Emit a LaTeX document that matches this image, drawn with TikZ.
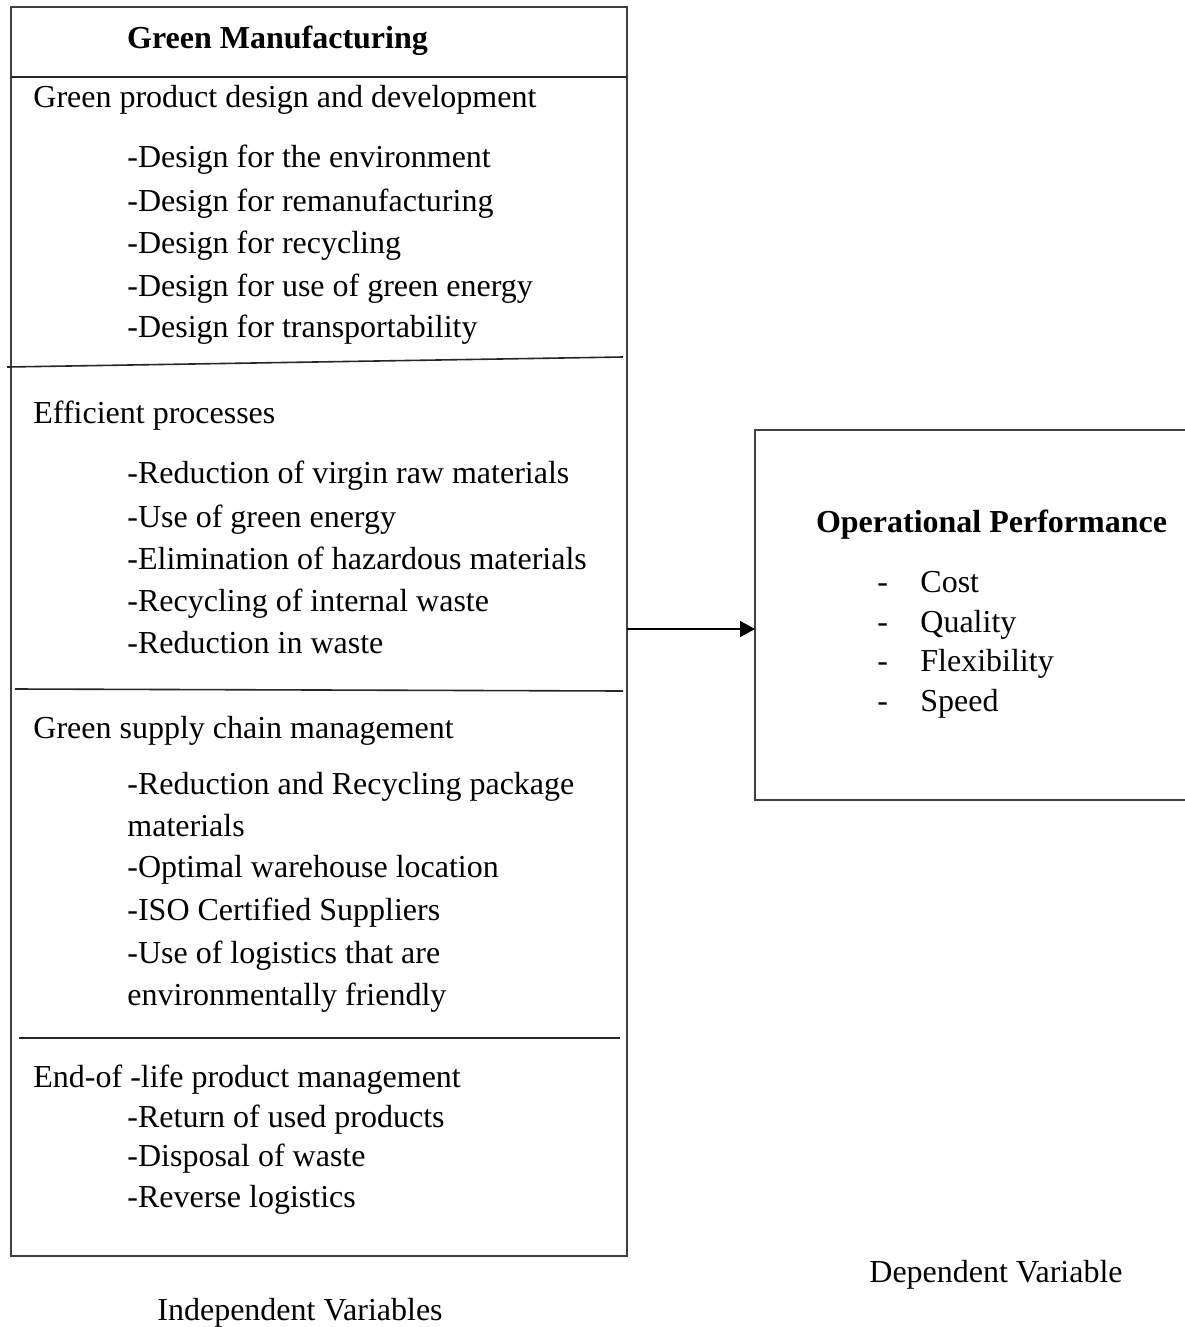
\documentclass[tikz,border=0pt]{standalone}
\usepackage{fontspec}
\setmainfont{Liberation Serif}
\usetikzlibrary{arrows.meta}
\begin{document}
\begin{tikzpicture}[x=0.5pt,y=-0.5pt,
  frame/.style={draw=black!75, line width=0.8pt, inner sep=0, outer sep=0},
  divider/.style={draw=black!85, line width=0.8pt},
  txt/.style={inner sep=0, anchor=base west, font=\fontsize{16}{19}\selectfont},
  head/.style={inner sep=0, anchor=base, font=\fontsize{16}{19}\selectfont\bfseries},
  arr/.style={-{Triangle[length=7.5pt,width=8pt]}, line width=0.8pt}]
\useasboundingbox (0,0) rectangle (1184,1327);
% boxes
\node[frame, minimum width=308pt, minimum height=624.5pt] (gm) at (319,631.5) {};
\node[frame, minimum width=216.5pt, minimum height=185pt] (op) at (971.5,615) {};
% dividers
\draw[divider] (11,77) -- (627,77);
\draw[divider] (7,367) -- (623,357);
\draw[divider] (15,689) -- (623,691);
\draw[divider] (19,1038) -- (620,1038);
% arrow
\coordinate (ay) at (0,629);
\draw[arr] (gm.east |- ay) -- (op.west |- ay);
% left box text
\node[head] (h1) at (277.5,49) {Green Manufacturing};
\node[txt] (s1) at (33,108) {Green product design and development};
\node[txt] (s1a) at (127,168) {-Design for the environment};
\node[txt] (s1b) at (127,211) {-Design for remanufacturing};
\node[txt] (s1c) at (127,253) {-Design for recycling};
\node[txt] (s1d) at (127,296) {-Design for use of green energy};
\node[txt] (s1e) at (127,337) {-Design for transportability};
\node[txt] (s2) at (33,423) {Efficient processes};
\node[txt] (s2a) at (127,483) {-Reduction of virgin raw materials};
\node[txt] (s2b) at (127,527) {-Use of green energy};
\node[txt] (s2c) at (127,569) {-Elimination of hazardous materials};
\node[txt] (s2d) at (127,611) {-Recycling of internal waste};
\node[txt] (s2e) at (127,653) {-Reduction in waste};
\node[txt] (s3) at (33,738) {Green supply chain management};
\node[txt] (s3a) at (127,794) {-Reduction and Recycling package};
\node[txt] (s3b) at (127,836) {materials};
\node[txt] (s3c) at (127,877) {-Optimal warehouse location};
\node[txt] (s3d) at (127,920) {-ISO Certified Suppliers};
\node[txt] (s3e) at (127,963) {-Use of logistics that are};
\node[txt] (s3f) at (127,1005) {environmentally friendly};
\node[txt] (s4) at (33,1087) {End-of -life product management};
\node[txt] (s4a) at (127,1127) {-Return of used products};
\node[txt] (s4b) at (127,1166) {-Disposal of waste};
\node[txt] (s4c) at (127,1207) {-Reverse logistics};
% right box text
\node[head] (h2) at (991.5,532) {Operational Performance};
\node[txt] (d1) at (877,592) {-};
\node[txt] (o1) at (920,592) {Cost};
\node[txt] (d2) at (877,632) {-};
\node[txt] (o2) at (920,632) {Quality};
\node[txt] (d3) at (877,671) {-};
\node[txt] (o3) at (920,671) {Flexibility};
\node[txt] (d4) at (877,711) {-};
\node[txt] (o4) at (920,711) {Speed};
% captions
\node[txt, anchor=base] (iv) at (300,1320) {Independent Variables};
\node[txt, anchor=base] (dv) at (996,1282) {Dependent Variable};
\end{tikzpicture}
\end{document}
